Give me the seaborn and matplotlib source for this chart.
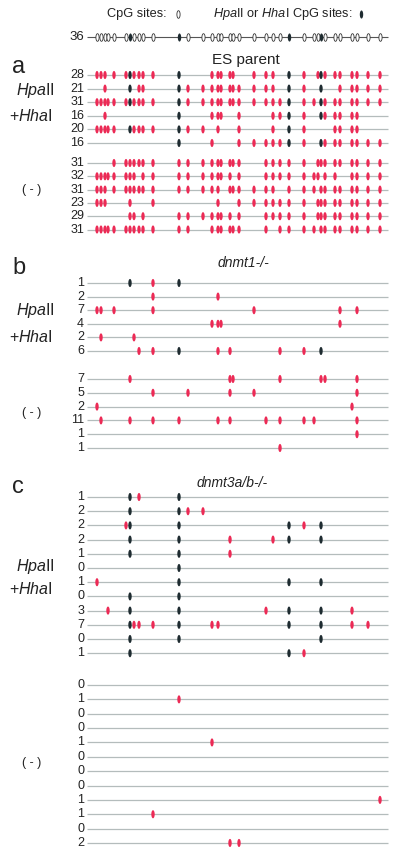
import numpy as np
import pandas as pd
import matplotlib
matplotlib.use("Agg")
import matplotlib.pyplot as plt
from matplotlib.path import Path
import seaborn as sns

# CpG site positions (bp from start of the region) and the HpaII/HhaI sites
cpg_sites = [10, 14, 18, 21, 27, 39, 43, 47, 52, 56, 66, 92, 101, 116, 125, 131, 134,
             143, 146, 152, 167, 179, 186, 193, 202, 217, 227, 231, 234, 238, 248, 253,
             265, 270, 281, 293]
enzyme_sites = [6, 11, 24, 28]
region_len = 301

# methylated CpG (site index) per clone
es_hh = [
    [0, 1, 2, 4, 5, 6, 7, 8, 9, 10, 11, 14, 15, 16, 17, 18, 20, 21, 22, 24, 25, 27, 28, 29, 30, 31, 32, 33, 34, 35],
    [2, 6, 8, 9, 11, 12, 13, 14, 15, 16, 17, 18, 19, 20, 21, 22, 24, 25, 28, 31, 32, 33, 34, 35],
    [0, 1, 2, 3, 4, 5, 6, 7, 8, 9, 10, 11, 12, 13, 14, 15, 16, 17, 18, 19, 20, 21, 22, 23, 24, 25, 26, 28, 29, 30, 31, 32, 33, 34, 35],
    [2, 11, 14, 15, 16, 19, 22, 23, 24, 25, 28, 29, 30, 31, 32, 33],
    [0, 1, 2, 3, 4, 6, 7, 8, 9, 10, 11, 12, 13, 15, 19, 22, 24, 25, 30, 31, 32, 33],
    [11, 14, 19, 20, 21, 22, 23, 24, 25, 28, 29, 30, 31, 32, 33, 34, 35],
]
es_minus = [
    [4, 5, 6, 7, 8, 9, 10, 11, 12, 13, 14, 15, 16, 17, 18, 19, 21, 22, 23, 24, 25, 27, 28, 29, 30, 31, 32, 33, 34, 35],
    [0, 1, 2, 3, 4, 5, 6, 7, 9, 10, 11, 12, 13, 14, 15, 16, 17, 19, 21, 22, 23, 24, 25, 26, 27, 29, 30, 32, 33, 34, 35],
    [0, 1, 2, 4, 5, 6, 7, 8, 9, 10, 11, 12, 13, 14, 15, 17, 18, 19, 20, 21, 22, 24, 25, 26, 28, 29, 30, 31, 32, 33, 34, 35],
    [0, 1, 2, 6, 10, 15, 19, 20, 21, 22, 23, 24, 25, 27, 28, 29, 30, 31, 32, 33, 34, 35],
    [6, 7, 9, 11, 12, 13, 14, 15, 16, 17, 19, 21, 22, 23, 24, 25, 27, 28, 29, 30, 31, 32, 33, 34, 35],
    [0, 1, 2, 3, 4, 5, 6, 7, 8, 9, 10, 11, 12, 14, 15, 16, 17, 18, 19, 21, 23, 24, 25, 26, 28, 29, 30, 31, 32, 33, 34, 35],
]
d1_hh = [
    [6, 10, 11],
    [10, 15],
    [0, 1, 4, 10, 20, 31, 33],
    [14, 15, 16, 31],
    [1, 7],
    [8, 10, 11, 15, 17, 23, 25, 28],
]
d1_minus = [
    [6, 17, 18, 23, 28, 29, 33],
    [10, 12, 17, 20, 33],
    [0, 32],
    [1, 6, 10, 11, 15, 17, 21, 23, 25, 26, 33],
    [33],
    [23],
]
d3_hh = [
    [6, 8, 11],
    [6, 11, 12, 13],
    [5, 6, 11, 24, 25, 28],
    [6, 11, 17, 22, 24, 28],
    [6, 11, 17],
    [11],
    [0, 11, 24, 28],
    [6, 11],
    [3, 6, 11, 21, 24, 28, 32],
    [6, 7, 8, 10, 11, 14, 15, 24, 28, 32, 34],
    [6, 11, 28],
    [6, 24, 25],
]
d3_minus = [[], [11], [], [], [14], [], [], [], [35], [10], [], [17, 19]]

# numbers of methylated CpGs printed left of each clone
es_hh_n = [28, 21, 31, 16, 20, 16]
es_minus_n = [31, 32, 31, 23, 29, 31]
d1_hh_n = [1, 2, 7, 4, 2, 6]
d1_minus_n = [7, 5, 2, 11, 1, 1]
d3_hh_n = [1, 2, 2, 2, 1, 0, 1, 0, 3, 7, 0, 1]
d3_minus_n = [0, 1, 0, 0, 1, 0, 0, 0, 1, 1, 0, 2]

RED = "#ec2a55"
DARK = "#1e2b30"
LINE = "#b4bcbc"

sns.set_theme(style="white")
plt.rcParams["font.family"] = ["Liberation Sans", "DejaVu Sans"]
plt.rcParams["mathtext.fontset"] = "custom"
plt.rcParams["mathtext.rm"] = "Liberation Sans"
plt.rcParams["mathtext.it"] = "Liberation Sans:italic"

# ellipse shaped marker
t = np.linspace(0, 2 * np.pi, 40)
ellipse = Path(np.column_stack([0.42 * np.cos(t), np.sin(t)]))

fig = plt.figure(figsize=(4, 8.56), dpi=100)
ax = fig.add_axes([0, 0, 1, 1])
ax.set_xlim(-87, 313)
ax.set_ylim(856, 0)
ax.axis("off")

# (rows, counts, first row y, row step, enzyme-treated?)
blocks = [
    (es_hh, es_hh_n, 75, 13.6, True),
    (es_minus, es_minus_n, 163, 13.3, False),
    (d1_hh, d1_hh_n, 283, 13.6, True),
    (d1_minus, d1_minus_n, 379, 13.8, False),
    (d3_hh, d3_hh_n, 497, 14.2, True),
    (d3_minus, d3_minus_n, 685, 14.36, False),
]

records = []
for rows, counts, y0, step, cut in blocks:
    ys = [y0 + i * step for i in range(len(rows))]
    ax.hlines(ys, 0, region_len, color=LINE, lw=0.9, zorder=1)
    for y, row, n in zip(ys, rows, counts):
        ax.text(-3, y, str(n), ha="right", va="center", fontsize=9, color="#222")
        for s in row:
            state = "enzyme" if (cut and s in enzyme_sites) else "meth"
            records.append({"pos": cpg_sites[s], "y": y, "state": state})

df = pd.DataFrame(records)
df["order"] = (df["state"] == "enzyme").astype(int)
df = df.sort_values("order", kind="stable")
sns.scatterplot(data=df, x="pos", y="y", hue="state", palette={"meth": RED, "enzyme": DARK},
                marker=ellipse, s=34, linewidth=0, legend=False, ax=ax, zorder=3)

# map of all CpG sites
top_y = 37
ax.hlines(top_y, 0, region_len, color="#555", lw=0.8, zorder=1)
ax.text(-3, top_y, "36", ha="right", va="center", fontsize=9.5, color="#222")
site_df = pd.DataFrame({"pos": cpg_sites,
                        "kind": ["enzyme" if i in enzyme_sites else "cpg" for i in range(len(cpg_sites))]})
open_df = site_df[site_df["kind"] == "cpg"]
ax.scatter(open_df["pos"], [top_y] * len(open_df), marker=ellipse, s=30,
           facecolor="white", edgecolor="#333", linewidth=0.6, zorder=3)
enz_df = site_df[site_df["kind"] == "enzyme"]
ax.scatter(enz_df["pos"], [top_y] * len(enz_df), marker=ellipse, s=34,
           color=DARK, linewidth=0, zorder=3)

# legend
ax.text(20, 14, "CpG sites:", ha="left", va="center", fontsize=9.2, color="#222")
ax.scatter([91], [14], marker=ellipse, s=30, facecolor="white", edgecolor="#333", linewidth=0.6)
ax.text(126, 14, r"$\it{Hpa}$II or $\it{Hha}$I CpG sites:", ha="left", va="center",
        fontsize=9.2, color="#222")
ax.scatter([274], [14], marker=ellipse, s=34, color=DARK, linewidth=0)

# panel letters and titles
for letter, y in [("a", 67), ("b", 268), ("c", 487)]:
    ax.text(-75, y, letter, ha="left", va="center", fontsize=17, color="#222")
ax.text(159, 60, "ES parent", ha="center", va="center", fontsize=11, color="#222")
ax.text(156, 263, "dnmt1-/-", ha="center", va="center", fontsize=10, style="italic", color="#222")
ax.text(145, 483, "dnmt3a/b-/-", ha="center", va="center", fontsize=10, style="italic", color="#222")

# treatment labels
for y1, y2, ym in [(90, 116, 190), (311, 337, 413), (567, 589, 763)]:
    ax.text(-32, y1, r"$\it{Hpa}$II", ha="right", va="center", fontsize=11.5, color="#222")
    ax.text(-34, y2, r"+$\it{Hha}$I", ha="right", va="center", fontsize=11.5, color="#222")
    ax.text(-55, ym, "( - )", ha="center", va="center", fontsize=9, color="#222")

fig.savefig("out.png", dpi=100)
